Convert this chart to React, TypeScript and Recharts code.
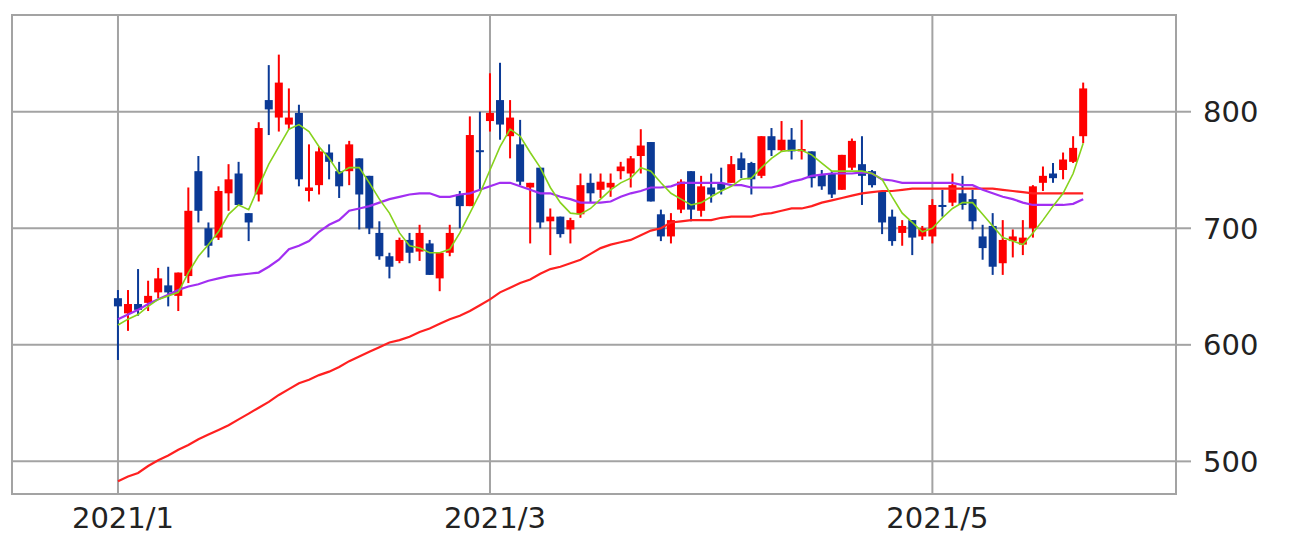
import React from 'react';
import { ComposedChart, Bar, Line, XAxis, YAxis, CartesianGrid, ReferenceArea } from 'recharts';

// trading days, Jan 4 – May 27 2021
const dates = [
  '1/4', '1/5', '1/6', '1/7', '1/8', '1/12', '1/13', '1/14', '1/15', '1/18', '1/19', '1/20', '1/21', '1/22', '1/25', '1/26', '1/27', '1/28', '1/29',
  '2/1', '2/2', '2/3', '2/4', '2/5', '2/8', '2/9', '2/10', '2/12', '2/15', '2/16', '2/17', '2/18', '2/19', '2/22', '2/24', '2/25', '2/26',
  '3/1', '3/2', '3/3', '3/4', '3/5', '3/8', '3/9', '3/10', '3/11', '3/12', '3/15', '3/16', '3/17', '3/18', '3/19', '3/22', '3/23', '3/24', '3/25', '3/26', '3/29', '3/30', '3/31',
  '4/1', '4/2', '4/5', '4/6', '4/7', '4/8', '4/9', '4/12', '4/13', '4/14', '4/15', '4/16', '4/19', '4/20', '4/21', '4/22', '4/23', '4/26', '4/27', '4/28', '4/30',
  '5/6', '5/7', '5/10', '5/11', '5/12', '5/13', '5/14', '5/17', '5/18', '5/19', '5/20', '5/21', '5/24', '5/25', '5/26', '5/27',
];

const opens = [
  640, 627, 635, 636, 645, 651, 642, 659, 749, 700, 692, 730, 747, 713, 729, 810, 795, 789, 799,
  732, 737, 765, 749, 749, 760, 745, 696, 676, 672, 690, 680, 687, 657, 679, 729, 719, 767,
  792, 810, 779, 772, 735, 752, 706, 710, 699, 712, 739, 733, 735, 749, 747, 762, 774, 712, 693, 716, 749, 715, 735,
  739, 739, 760, 756, 745, 779, 767, 776, 766, 766, 746, 747, 733, 752, 755, 749, 732, 710, 696, 707, 693,
  693, 720, 722, 730, 725, 693, 702, 670, 689, 686, 700, 739, 747, 750, 757, 779,
];
const highs = [
  647, 647, 665, 655, 666, 667, 662, 735, 762, 705, 736, 755, 757, 713, 791, 840, 849, 820, 806,
  772, 770, 772, 757, 775, 760, 745, 706, 679, 692, 696, 703, 690, 679, 703, 732, 796, 800,
  833, 842, 810, 793, 739, 752, 717, 710, 709, 747, 747, 747, 747, 757, 762, 785, 774, 716, 713, 742, 749, 745, 747,
  752, 762, 765, 757, 779, 786, 792, 786, 793, 766, 750, 749, 763, 777, 779, 750, 732, 716, 707, 707, 702,
  725, 733, 747, 745, 733, 703, 713, 707, 699, 707, 737, 753, 756, 765, 779, 825,
];
const lows = [
  587, 612, 625, 629, 640, 633, 629, 653, 705, 675, 690, 715, 720, 689, 723, 780, 783, 785, 736,
  723, 729, 742, 726, 737, 699, 695, 673, 657, 670, 670, 672, 660, 646, 676, 700, 719, 732,
  783, 776, 760, 737, 687, 700, 677, 692, 687, 709, 722, 726, 727, 742, 735, 747, 723, 689, 687, 713, 706, 710, 722,
  729, 739, 743, 729, 743, 762, 766, 759, 759, 735, 733, 726, 733, 750, 720, 735, 695, 685, 685, 677, 690,
  687, 710, 719, 716, 699, 673, 660, 660, 675, 677, 692, 732, 739, 742, 756, 773,
];
const closes = [
  633, 635, 630, 642, 657, 645, 662, 715, 715, 685, 732, 742, 720, 705, 786, 802, 825, 795, 742,
  735, 766, 757, 736, 772, 729, 700, 676, 667, 690, 679, 696, 660, 679, 696, 719, 780, 766,
  799, 789, 795, 740, 739, 705, 710, 695, 707, 737, 730, 740, 739, 753, 760, 771, 723, 693, 707, 740, 716, 736, 729,
  733, 755, 750, 742, 779, 767, 776, 766, 768, 743, 736, 729, 763, 775, 745, 737, 705, 689, 702, 692, 700,
  720, 719, 737, 720, 706, 683, 667, 690, 693, 692, 736, 745, 743, 759, 769, 820,
];

// moving averages as drawn (short / medium / long)
const maShort = [
  617, 622, 626, 633, 639, 642, 645, 662, 676, 686, 697, 712, 720, 716, 736, 755, 770, 785, 789,
  783, 770, 760, 747, 752, 752, 739, 725, 713, 696, 685, 683, 679, 679, 682, 696, 713, 730,
  750, 770, 785, 779, 765, 752, 735, 722, 713, 712, 717, 725, 733, 739, 743, 752, 749, 739, 730, 725, 720, 722, 727,
  732, 736, 742, 743, 752, 760, 766, 767, 767, 763, 756, 749, 749, 749, 749, 747, 742, 727, 713, 705, 697,
  700, 709, 717, 722, 722, 712, 702, 692, 689, 686, 696, 707, 719, 730, 747, 773,
];
const maMid = [
  622, 626, 630, 635, 639, 643, 647, 650, 652, 655, 657, 659, 660, 661, 662, 667, 673, 682, 685,
  689, 697, 703, 707, 715, 717, 719, 722, 725, 727, 729, 730, 730, 727, 727, 729, 730, 733,
  736, 739, 739, 736, 733, 730, 730, 727, 725, 722, 722, 722, 723, 727, 730, 732, 735, 735, 736, 739, 739, 739, 739,
  739, 737, 737, 735, 735, 735, 737, 740, 742, 745, 746, 747, 747, 747, 748, 747, 742, 741, 739, 739, 739,
  739, 739, 739, 737, 737, 733, 730, 727, 725, 722, 720, 720, 720, 720, 721, 725,
];
const maLong = [
  483, 487, 490, 496, 501, 505, 510, 514, 519, 523, 527, 531, 536, 541, 546, 551, 557, 562, 567,
  570, 574, 577, 581, 586, 590, 594, 598, 602, 604, 607, 611, 614, 618, 622, 625, 629, 634,
  639, 645, 649, 653, 656, 661, 665, 667, 670, 673, 678, 683, 686, 688, 690, 694, 698, 700, 705, 706, 707, 707, 707,
  709, 710, 710, 710, 712, 713, 715, 717, 717, 719, 722, 724, 726, 728, 730, 731, 732, 732, 733, 734, 734,
  734, 734, 734, 734, 734, 734, 734, 733, 732, 731, 730, 730, 730, 730, 730, 730,
];

const monthStarts = ['1/4', '3/1', '5/6'];
const monthLabels = ['2021/1', '2021/3', '2021/5'];
const priceTicks = [500, 600, 700, 800];

const UP = '#ff0000';
const DOWN = '#0b3a96';
const GRID = '#a3a3a3';

const data = dates.map((d, i) => ({
  i,
  date: d,
  open: opens[i],
  high: highs[i],
  low: lows[i],
  close: closes[i],
  range: [lows[i], highs[i]],
  maShort: maShort[i],
  maMid: maMid[i],
  maLong: maLong[i],
}));

const tickIdx = monthStarts.map((d) => dates.indexOf(d));

const Candle = (props: any) => {
  const { x, y, width, height, payload } = props;
  const top = Math.min(y, y + height);
  const bottom = Math.max(y, y + height);
  const { open, close, high, low } = payload;
  const k = (bottom - top) / (high - low || 1);
  const py = (v: number) => top + (high - v) * k;
  const cx = x + width / 2;
  const color = close >= open ? UP : DOWN;
  const bTop = py(Math.max(open, close));
  const bBot = py(Math.min(open, close));
  return (
    <g>
      <rect x={cx - 1} y={top} width={2} height={bottom - top} fill={color} />
      <rect x={cx - 4} y={bTop} width={8} height={Math.max(bBot - bTop, 2)} fill={color} />
    </g>
  );
};

const X_MIN = -10.54;
const X_MAX = 105.23;
const Y_MIN = 472;
const Y_MAX = 883;

export default function App() {
  return (
    <div style={{ position: 'absolute', left: 0, top: 0, width: 1300, height: 549, background: '#fff' }}>
      <ComposedChart
        width={1300}
        height={549}
        data={data}
        margin={{ top: 15, right: 14, bottom: 15, left: 12 }}
        style={{ fontFamily: '"DejaVu Sans", sans-serif' }}
      >
        <CartesianGrid stroke={GRID} strokeWidth={2} horizontalValues={priceTicks} verticalValues={tickIdx} />
        <ReferenceArea x1={X_MIN} x2={X_MAX} y1={Y_MIN} y2={Y_MAX} fill="none" stroke={GRID} strokeWidth={2} />
        <XAxis
          dataKey="i"
          type="number"
          domain={[X_MIN, X_MAX]}
          allowDataOverflow
          ticks={tickIdx}
          tickFormatter={(v: number) => monthLabels[tickIdx.indexOf(v)]}
          axisLine={false}
          tickLine={false}
          tickSize={0}
          tickMargin={13}
          height={40}
          dx={5}
          tick={{ fill: '#222', fontSize: 29 }}
          interval={0}
        />
        <YAxis
          orientation="right"
          type="number"
          domain={[Y_MIN, Y_MAX]}
          allowDataOverflow
          ticks={priceTicks}
          axisLine={false}
          tickLine={{ stroke: GRID, strokeWidth: 2 }}
          tickSize={15}
          tickMargin={12}
          width={110}
          tick={{ fill: '#222', fontSize: 29 }}
          interval={0}
        />
        <Bar dataKey="range" barSize={8} shape={<Candle />} isAnimationActive={false} />
        <Line dataKey="maLong" stroke="#ff2020" strokeWidth={2.2} dot={false} isAnimationActive={false} />
        <Line dataKey="maMid" stroke="#a22ef2" strokeWidth={2.2} dot={false} isAnimationActive={false} />
        <Line dataKey="maShort" stroke="#86d21c" strokeWidth={1.6} dot={false} isAnimationActive={false} />
      </ComposedChart>
    </div>
  );
}
